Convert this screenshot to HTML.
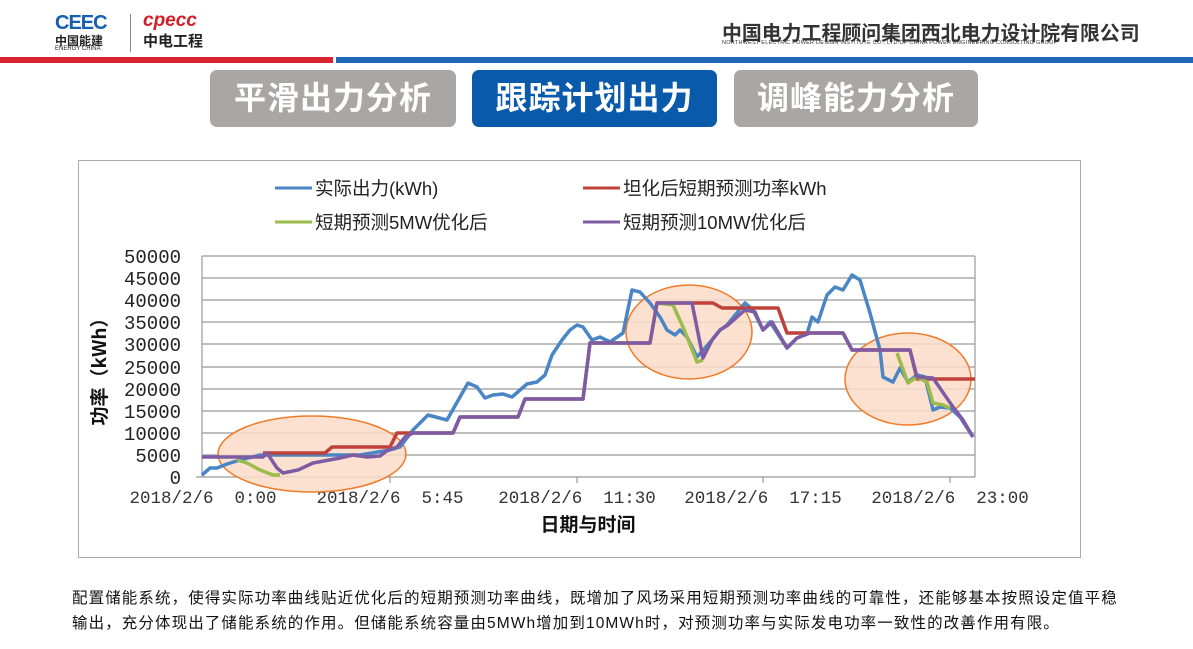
<!DOCTYPE html>
<html><head><meta charset="utf-8"><style>
body{margin:0;width:1193px;height:649px;background:#fff;position:relative;overflow:hidden;font-family:"Liberation Sans","Noto Sans CJK SC",sans-serif}
.btn{position:absolute;top:70px;height:57px;border-radius:7px;color:#fff;font-size:32px;font-weight:bold;text-align:center;line-height:57px;letter-spacing:1px}
.txt{position:absolute;left:72px;font-size:15.5px;color:#111;white-space:nowrap;letter-spacing:1.1px}
</style></head><body>
<div style="position:absolute;left:55px;top:12px;color:#1560b0;font-weight:bold;font-size:20px;letter-spacing:-1px">CEEC</div>
<div style="position:absolute;left:55px;top:32px;font-size:12px;font-weight:bold;color:#222">中国能建</div>
<div style="position:absolute;left:55px;top:46px;font-size:6px;color:#222">ENERGY CHINA</div>
<div style="position:absolute;left:130px;top:14px;width:1px;height:38px;background:#888"></div>
<div style="position:absolute;left:143px;top:10px;color:#d0202a;font-weight:bold;font-style:italic;font-size:19px">cpecc</div>
<div style="position:absolute;left:143px;top:30px;font-size:15px;font-weight:bold;color:#222">中电工程</div>
<div style="position:absolute;left:722px;top:17px;font-size:19.9px;font-weight:bold;color:#333;white-space:nowrap">中国电力工程顾问集团西北电力设计院有限公司</div>
<div style="position:absolute;left:722px;top:40px;font-size:5.5px;color:#333;white-space:nowrap;letter-spacing:0.25px">NORTHWEST ELECTRIC POWER DESIGN INSTITUTE CO., LTD.OF CHINA POWER ENGINEERING CONSULTING GROUP</div>
<div style="position:absolute;left:0;top:57px;width:333px;height:6px;background:#d9232e"></div>
<div style="position:absolute;left:336px;top:57px;width:857px;height:6px;background:#2068b8"></div>
<div class="btn" style="left:210px;width:246px;background:#aaa6a5">平滑出力分析</div>
<div class="btn" style="left:472px;width:245px;background:#0a5aac">跟踪计划出力</div>
<div class="btn" style="left:734px;width:244px;background:#aaa6a5">调峰能力分析</div>
<div style="position:absolute;left:78px;top:160px;width:1001px;height:396px;border:1px solid #aaa"></div>
<svg width="1193" height="649" style="position:absolute;left:0;top:0" font-family="Liberation Mono,monospace">
<g stroke="#999" stroke-width="1.2">
<line x1="202" y1="256" x2="975" y2="256"/><line x1="202" y1="278" x2="975" y2="278"/><line x1="202" y1="300" x2="975" y2="300"/><line x1="202" y1="322" x2="975" y2="322"/><line x1="202" y1="344" x2="975" y2="344"/><line x1="202" y1="367" x2="975" y2="367"/><line x1="202" y1="389" x2="975" y2="389"/><line x1="202" y1="411" x2="975" y2="411"/><line x1="202" y1="433" x2="975" y2="433"/><line x1="202" y1="455" x2="975" y2="455"/><line x1="196" y1="477" x2="975" y2="477"/>
<line x1="202" y1="256" x2="202" y2="477"/><line x1="975" y1="256" x2="975" y2="477"/>
<line x1="390" y1="477" x2="390" y2="483"/><line x1="577" y1="477" x2="577" y2="483"/><line x1="763" y1="477" x2="763" y2="483"/><line x1="950" y1="477" x2="950" y2="483"/>
</g>
<g fill="#222" font-size="19" text-anchor="end">
<text x="181" y="263">50000</text><text x="181" y="285">45000</text><text x="181" y="307">40000</text><text x="181" y="329">35000</text><text x="181" y="351">30000</text><text x="181" y="374">25000</text><text x="181" y="396">20000</text><text x="181" y="418">15000</text><text x="181" y="440">10000</text><text x="181" y="462">5000</text><text x="181" y="484">0</text>
</g>
<g fill="#333" font-size="17.5" text-anchor="middle">
<text x="203" y="503" xml:space="preserve">2018/2/6  0:00</text><text x="390" y="503" xml:space="preserve">2018/2/6  5:45</text><text x="577" y="503" xml:space="preserve">2018/2/6  11:30</text><text x="763" y="503" xml:space="preserve">2018/2/6  17:15</text><text x="950" y="503" xml:space="preserve">2018/2/6  23:00</text>
</g>
<text x="588" y="531" font-size="19" font-weight="bold" text-anchor="middle" fill="#111" font-family="Noto Sans CJK SC,sans-serif">日期与时间</text>
<text transform="translate(106,367) rotate(-90)" font-size="19" font-weight="bold" text-anchor="middle" fill="#111" font-family="Noto Sans CJK SC,sans-serif">功率（kWh）</text>
<g fill="#fbdcc8" fill-opacity="0.85" stroke="#f07a28" stroke-width="1.5">
<ellipse cx="312" cy="454" rx="94" ry="38"/><ellipse cx="689" cy="332" rx="63" ry="47"/><ellipse cx="908" cy="379" rx="63" ry="46"/>
</g>
<g fill="none" stroke-width="3.5" stroke-linejoin="round">
<polyline stroke="#4a86c6" points="202,475 210,468 217,468 227,464 240,460 260,455 300,455 360,455 390,450 400,447 413,430 428,415 447,420 460,397 468,383 477,387 485,398 493,395 503,394 512,397 527,384 537,382 545,375 552,355 562,340 570,330 577,325 583,327 592,340 600,337 610,342 623,333 632,290 640,292 650,303 660,317 667,330 675,335 680,330 687,337 697,357 712,340 720,330 727,325 745,303 753,310 763,330 770,322 787,348 797,338 807,334 812,317 818,322 827,295 835,287 843,290 852,275 860,280 870,313 880,350 883,377 893,382 900,368 908,382 917,375 925,377 933,410 940,407 950,408 960,417 973,437"/>
<polyline stroke="#c0413a" points="263,453 325,453 332,447 390,447 397,433 413,433 453,433 460,417 518,417 525,399 583,399 590,343 650,343 657,303 713,303 722,308 778,308 787,333 843,333 852,350 910,350 917,379 975,379"/>
<polyline stroke="#9bbb4a" points="237,460 247,463 260,470 273,475 280,475"/>
<polyline stroke="#9bbb4a" points="657,303 673,305 683,327 697,362 703,360"/>
<polyline stroke="#9bbb4a" points="897,353 908,383 917,377 927,382 933,403 943,405 950,408"/>
<polyline stroke="#7d5ca3" points="202,457 263,457 267,453 277,468 283,473 298,470 313,463 340,458 353,455 367,457 380,456 388,450 397,447 405,437 413,433 453,433 460,417 518,417 525,399 583,399 590,343 650,343 657,303 692,303 703,358 712,340 720,330 728,325 745,310 755,312 763,330 772,322 787,348 797,338 810,333 843,333 852,350 910,350 917,377 933,378 953,407 963,420 973,437"/>
</g>
<g stroke-width="3"><line x1="275" y1="188" x2="312" y2="188" stroke="#4a86c6"/><line x1="583" y1="188" x2="620" y2="188" stroke="#c0413a"/><line x1="275" y1="222" x2="312" y2="222" stroke="#9bbb4a"/><line x1="583" y1="222" x2="620" y2="222" stroke="#7d5ca3"/></g>
<g font-size="18.5" fill="#222" font-family="Liberation Sans,Noto Sans CJK SC,sans-serif">
<text x="315" y="195">实际出力(kWh)</text><text x="623" y="195">坦化后短期预测功率kWh</text><text x="315" y="229">短期预测5MW优化后</text><text x="623" y="229">短期预测10MW优化后</text>
</g>
</svg>
<div class="txt" style="top:586px">配置储能系统，使得实际功率曲线贴近优化后的短期预测功率曲线，既增加了风场采用短期预测功率曲线的可靠性，还能够基本按照设定值平稳</div>
<div class="txt" style="top:611px">输出，充分体现出了储能系统的作用。但储能系统容量由5MWh增加到10MWh时，对预测功率与实际发电功率一致性的改善作用有限。</div>
</body></html>
